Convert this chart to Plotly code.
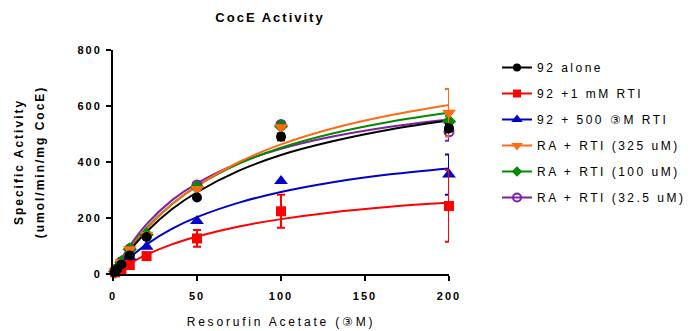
import plotly.graph_objects as go

# ---------------- data ----------------
conc = [1.25, 2.5, 5, 10, 20, 50, 100, 200]

alone_y   = [8, 17, 34, 66, 132, 273, 490, 520]
alone_err = [None, None, None, None, None, None, 12, 15]

rti1mm_y   = [6, 13, 16, 32, 64, 127, 224, 243]
rti1mm_err = [None, None, None, None, 6, 30, 59, 128]

rti500_y   = [8, 16, 30, 60, 97, 189, 332, 355]
rti500_err = [None, None, None, None, None, None, None, 72]

ra325_y   = [9, 19, 42, 88, 140, 304, 524, 576]
ra325_err = [None, None, None, None, None, None, None, 85]

ra100_y   = [9, 19, 42, 88, 140, 310, 528, 545]
ra100_err = [None, None, None, None, None, None, None, 20]

ra32_y   = [10, 20, 44, 90, 137, 318, 534, 508]
ra32_err = [None, None, None, None, None, None, 8, 32]

# fitted curves
fit_x = [0, 2.5, 5, 10, 20, 35, 50, 75, 100, 130, 165, 200]
fit_alone  = [0, 23, 44, 84, 151, 231, 292, 369, 425, 473, 516, 548]
fit_rti1mm = [0, 10, 20, 38, 69, 106, 134, 170, 196, 220, 240, 255]
fit_rti500 = [0, 16, 31, 59, 106, 161, 203, 255, 293, 327, 356, 377]
fit_ra325  = [0, 24, 47, 89, 161, 248, 315, 400, 463, 519, 567, 604]
fit_ra100  = [0, 25, 49, 92, 165, 249, 314, 394, 451, 501, 544, 576]
fit_ra32   = [0, 28, 55, 101, 178, 263, 324, 397, 447, 490, 526, 552]

names = ["92 alone", "92 +1 mM RTI", "92 + 500 \u2462M RTI",
         "RA + RTI (325 uM)", "RA + RTI (100 uM)", "RA + RTI (32.5 uM)"]
x_ticks = [0, 50, 100, 150, 200]
y_ticks = [0, 200, 400, 600, 800]

# ---------------- styling ----------------
FONT = "Liberation Sans, Arial, sans-serif"
W, H = 692, 323  # page body has an 8px margin
series = [
    (names[0], alone_y, alone_err, fit_alone, "#000000", "circle", 10),
    (names[1], rti1mm_y, rti1mm_err, fit_rti1mm, "#FF0000", "square", 10),
    (names[2], rti500_y, rti500_err, fit_rti500, "#0000CC", "triangle-up", 12),
    (names[3], ra325_y, ra325_err, fit_ra325, "#FF6A13", "triangle-down", 12),
    (names[4], ra100_y, ra100_err, fit_ra100, "#008A00", "diamond", 11),
    (names[5], ra32_y, ra32_err, fit_ra32, "#8020A0", "circle-open", 9),
]

fig = go.Figure()

draw_order = [5, 4, 3, 2, 1, 0]
for i in draw_order:
    name, y, err, fit, col, sym, sz = series[i]
    fig.add_trace(go.Scatter(
        x=fit_x, y=fit, mode="lines", line=dict(color=col, width=2, shape="spline"),
        legendgroup=name, showlegend=False, hoverinfo="skip", cliponaxis=False))

for i in draw_order:
    name, y, err, fit, col, sym, sz = series[i]
    fig.add_trace(go.Scatter(
        x=conc, y=y, mode="markers",
        marker=dict(color=col, symbol=sym, size=sz,
                    line=dict(color=col, width=2 if sym == "circle-open" else 0)),
        error_y=dict(type="data", array=err, visible=True, color=col,
                     thickness=2, width=4),
        legendgroup=name, showlegend=False, cliponaxis=False))

for k, (name, y, err, fit, col, sym, sz) in enumerate(series):
    fig.add_trace(go.Scatter(
        x=[None], y=[None], mode="lines+markers", name=name,
        line=dict(color=col, width=2),
        marker=dict(color=col, symbol=sym, size=8 if "triangle" not in sym else 10,
                    line=dict(color=col, width=2 if sym == "circle-open" else 0)),
        legendgroup=name, legendrank=k + 1))

axis_common = dict(
    showline=True, linecolor="black", linewidth=2,
    ticks="outside", ticklen=5, tickwidth=2, tickcolor="black",
    showgrid=False, zeroline=False, automargin=False,
    tickfont=dict(family=FONT, size=11, color="black", weight="bold"),
)

fig.update_layout(
    width=W, height=H,
    paper_bgcolor="white", plot_bgcolor="white",
    margin=dict(l=105, r=251, t=42, b=57),
    title=dict(text="CocE Activity", x=262 / W, xanchor="center",
               y=1 - 9 / H, yanchor="middle",
               font=dict(family=FONT, size=13, color="black", weight="bold")),
    xaxis=dict(range=[0, 200], tickvals=x_ticks, ticklabelstandoff=6,
               title=dict(text="Resorufin Acetate (\u2462M)", standoff=16,
                          font=dict(family=FONT, size=12, color="black")),
               **axis_common),
    yaxis=dict(range=[0, 800], tickvals=y_ticks, ticklabelstandoff=2,
               title=dict(text="Specific Activity<br>(umol/min/mg CocE)", standoff=42,
                          font=dict(family=FONT, size=12, color="black", weight="bold")),
               **axis_common),
    legend=dict(x=(497 - 113) / 336, xanchor="left", y=1 - (53 - 50) / 224,
                yanchor="top", font=dict(family=FONT, size=12, color="black"),
                tracegroupgap=7, bgcolor="rgba(0,0,0,0)", itemwidth=30),
    showlegend=True,
)

post = """
var gd = document.getElementById('{plot_id}');
function sp(sel, v){ gd.querySelectorAll(sel).forEach(function(e){ e.style.letterSpacing = v; }); }
sp('.gtitle', '2px'); sp('.xtick text', '2px'); sp('.ytick text', '2px');
sp('.legendtext', '2.5px'); sp('.xtitle', '2.8px'); sp('.ytitle', '2px');
gd.querySelectorAll('.legend [clip-path]').forEach(function(e){ e.removeAttribute('clip-path'); });
var ls = gd.querySelectorAll('.ytitle tspan.line');
if (ls.length > 1) { ls[1].setAttribute('dy', '1.8em'); }
"""
fig.write_html("out.html", post_script=post)
